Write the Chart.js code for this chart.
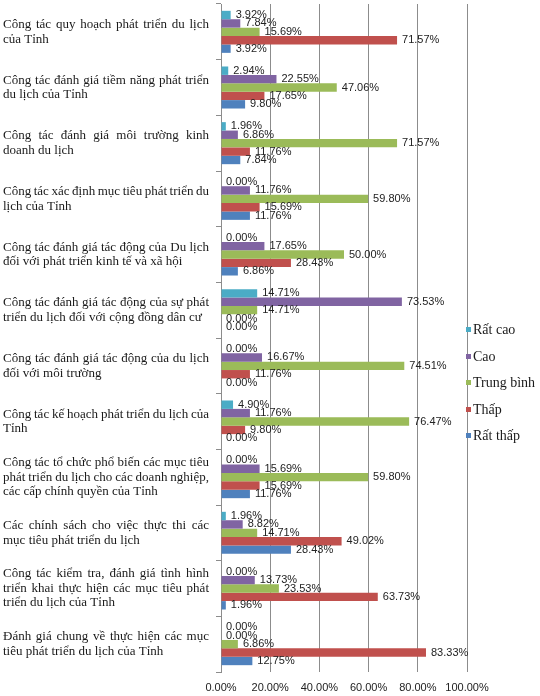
<!DOCTYPE html>
<html>
<head>
<meta charset="utf-8">
<script src="https://cdn.jsdelivr.net/npm/chart.js@4.4.1/dist/chart.umd.min.js"></script>
<style>
  html, body { margin:0; padding:0; background:#fff; }
  #wrap { position:relative; width:540px; height:696px; }
  #legend { position:absolute; left:466px; top:317px; font-family:"Liberation Serif", serif; font-size:14px; color:#1a1a1a; }
  #legend .item { height:26.5px; line-height:26.5px; white-space:nowrap; }
  #legend .swatch { display:inline-block; width:5px; height:5px; margin-right:2px; vertical-align:middle; position:relative; top:-1px; }
</style>
</head>
<body>
<div id="wrap">
  <canvas id="chart" width="540" height="696"></canvas>
  <div id="legend"></div>
</div>
<script>
const categories = [
  ['Công tác quy hoạch phát triển du lịch', 'của Tỉnh'],
  ['Công tác đánh giá tiềm năng phát triển', 'du lịch của Tỉnh'],
  ['Công tác đánh giá môi trường kinh', 'doanh du lịch'],
  ['Công tác xác định mục tiêu phát triển du', 'lịch của Tỉnh'],
  ['Công tác đánh giá tác động của Du lịch', 'đối với phát triển kinh tế và xã hội'],
  ['Công tác đánh giá tác động của sự phát', 'triển du lịch đối với cộng đồng dân cư'],
  ['Công tác đánh giá tác động của du lịch', 'đối với môi trường'],
  ['Công tác kế hoạch phát triển du lịch của', 'Tỉnh'],
  ['Công tác tổ chức phổ biến các mục tiêu', 'phát triển du lịch cho các doanh nghiệp,', 'các cấp chính quyền của Tỉnh'],
  ['Các chính sách cho việc thực thi các', 'mục tiêu phát triển du lịch'],
  ['Công tác kiểm tra, đánh giá tình hình', 'triển khai thực hiện các mục tiêu phát', 'triển du lịch của Tỉnh'],
  ['Đánh giá chung về thực hiện các mục', 'tiêu phát triển du lịch của Tỉnh']
];

const seriesNames = ['Rất cao', 'Cao', 'Trung bình', 'Thấp', 'Rất thấp'];
const seriesColors = ['#4BACC6', '#8064A2', '#9BBB59', '#C0504D', '#4F81BD'];

const ratCao    = [3.92, 2.94, 1.96, 0.00, 0.00, 14.71, 0.00, 4.90, 0.00, 1.96, 0.00, 0.00];
const cao       = [7.84, 22.55, 6.86, 11.76, 17.65, 73.53, 16.67, 11.76, 15.69, 8.82, 13.73, 0.00];
const trungBinh = [15.69, 47.06, 71.57, 59.80, 50.00, 14.71, 74.51, 76.47, 59.80, 14.71, 23.53, 6.86];
const thap      = [71.57, 17.65, 11.76, 15.69, 28.43, 0.00, 11.76, 9.80, 15.69, 49.02, 63.73, 83.33];
const ratThap   = [3.92, 9.80, 7.84, 11.76, 6.86, 0.00, 0.00, 0.00, 11.76, 28.43, 1.96, 12.75];

const xMin = 0, xMax = 100, xStep = 20;

const seriesValues = [ratCao, cao, trungBinh, thap, ratThap];
const pct = v => Number(v).toFixed(2) + '%';

// value text right after each bar end
const barValueLabels = {
  id: 'barValueLabels',
  afterDatasetsDraw(chart){
    const ctx = chart.ctx;
    ctx.save();
    ctx.font = '11px "Liberation Sans"';
    ctx.fillStyle = '#222';
    ctx.textBaseline = 'middle';
    chart.data.datasets.forEach((ds, i)=>{
      chart.getDatasetMeta(i).data.forEach((bar, j)=>{
        ctx.fillText(pct(ds.data[j]), bar.x + 5, bar.y);
      });
    });
    ctx.restore();
  }
};

// category names, justified like in the source document
const justifyLabels = {
  id: 'justifyLabels',
  afterDraw(chart){
    const sc = chart.scales.y, ctx = chart.ctx;
    const left = 3, right = 209, lh = 14.5;
    ctx.save();
    ctx.font = '13px "Liberation Serif"';
    ctx.fillStyle = '#1a1a1a';
    ctx.textBaseline = 'middle';
    categories.forEach((lines, i)=>{
      const y0 = sc.getPixelForValue(i) - (lines.length - 1) * lh / 2;
      lines.forEach((line, j)=>{
        const y = y0 + j * lh;
        const words = line.split(' ');
        if(j === lines.length - 1 || words.length < 2){ ctx.fillText(line, left, y); return; }
        const widths = words.map(w => ctx.measureText(w).width);
        const gap = Math.max(2, (right - left - widths.reduce((a, b) => a + b, 0)) / (words.length - 1));
        let x = left;
        words.forEach((w, k)=>{ ctx.fillText(w, x, y); x += widths[k] + gap; });
      });
    });
    ctx.restore();
  }
};

const datasets = seriesNames.map((name, i)=>({
  label: name,
  data: seriesValues[i],
  backgroundColor: seriesColors[i],
  barPercentage: 1,
  categoryPercentage: 0.755
}));

const chart = new Chart(document.getElementById('chart').getContext('2d'), {
  type: 'bar',
  data: { labels: categories, datasets },
  options: {
    indexAxis: 'y',
    responsive: false,
    animation: false,
    layout: { padding: { left: 3, top: 4, right: 73, bottom: 0 } },
    scales: {
      x: {
        min: xMin, max: xMax,
        ticks: { stepSize: xStep, callback: v => pct(v), color: '#222', font: { family: 'Liberation Sans', size: 11 }, padding: 9, maxRotation: 0 },
        grid: { color: '#8c8c8c', drawTicks: false },
        border: { display: false },
        afterFit(s){ s.height = 24; }
      },
      y: {
        ticks: { display: false },
        grid: { drawOnChartArea: false, tickLength: 5, color: '#8c8c8c' },
        border: { color: '#8c8c8c' },
        afterFit(s){ s.width = 218; }
      }
    },
    plugins: {
      legend: { display: false },
      tooltip: { enabled: false }
    }
  },
  plugins: [barValueLabels, justifyLabels]
});

const legend = document.getElementById('legend');
chart.data.datasets.forEach(ds=>{
  const el = document.createElement('div');
  el.className = 'item';
  el.innerHTML = `<span class="swatch" style="background:${ds.backgroundColor}"></span>${ds.label}`;
  legend.appendChild(el);
});
</script>
</body>
</html>
